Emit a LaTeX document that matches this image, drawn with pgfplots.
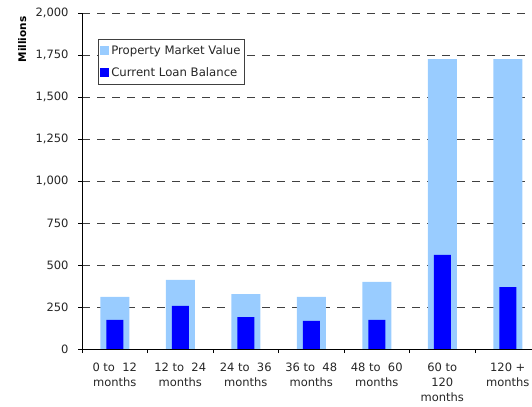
\documentclass[border=0pt]{standalone}
\usepackage{fontspec}
\setmainfont{DejaVu Sans}
\usepackage{pgfplots}
\pgfplotsset{compat=1.18}
\definecolor{lightbar}{HTML}{99CCFF}
\definecolor{darkbar}{HTML}{0000FF}
\begin{document}
\begin{tikzpicture}
\path[use as bounding box, clip] (0,0) rectangle (532bp,407bp);
\begin{axis}[
  scale only axis, width=458.5bp, height=336bp,
  at={(82bp,58bp)}, anchor=south west,
  xmin=-0.5, xmax=6.5, ymin=0, ymax=2000,
  axis x line=bottom, axis y line=left, axis line style={-, black, line width=0.8bp},
  tick align=outside,
  ytick={0,250,...,2000},
  scaled y ticks=false,
  yticklabel style={/pgf/number format/.cd,1000 sep={,},/tikz/.cd, xshift=-6bp},
  /pgf/number format/assume math mode=true,
  ymajorgrids,
  major grid style={black!75, line width=0.9bp, dash pattern=on 7.5bp off 7.5bp},
  major tick length=4bp, minor tick length=4bp,
  tick style={black, line width=0.8bp},
  xtick={0,...,6},
  xticklabels={{0 to\ \ 12\\months},{12 to\ \ 24\\months},{24 to\ \ 36\\months},{36 to\ \ 48\\months},{48 to\ \ 60\\months},{60 to\\120\\months},{120 +\\months}},
  xticklabel style={align=center, yshift=-6bp},
  major x tick style={draw=none},
  minor xtick={-0.5,0.5,...,6.5},
  minor x tick style={black, line width=0.8bp},
  font=\fontsize{11.5bp}{15bp}\selectfont,
  ticklabel style={font=\fontsize{11.5bp}{15bp}\selectfont, text=black!85},
  ylabel={\bfseries Millions},
  ylabel style={at={(axis description cs:-0.135,1)}, anchor=east, yshift=-2bp, font=\fontsize{10.5bp}{12bp}\selectfont},
  legend style={at={(axis description cs:0.0349,0.9226)}, anchor=north west,
    draw=black!75, fill=white, line width=0.6bp, inner xsep=2bp, inner ysep=4bp,
    row sep=8bp, font=\fontsize{11.7bp}{14bp}\selectfont, text=black!85},
  legend cell align=left,
  legend image code/.code={\fill[#1] (0bp,-4.5bp) rectangle (9bp,4.5bp);},
]
\addplot[ybar, bar width=29bp, bar shift=0pt, fill=lightbar, draw=none]
  coordinates {(0,311) (1,411) (2,327) (3,311) (4,399) (5,1726) (6,1726)};
\addlegendentry{Property Market Value}
\addplot[ybar, bar width=17bp, bar shift=0pt, fill=darkbar, draw=none]
  coordinates {(0,173) (1,256) (2,190) (3,167) (4,173) (5,560) (6,369)};
\addlegendentry{Current Loan Balance}
\end{axis}
\end{tikzpicture}
\end{document}
